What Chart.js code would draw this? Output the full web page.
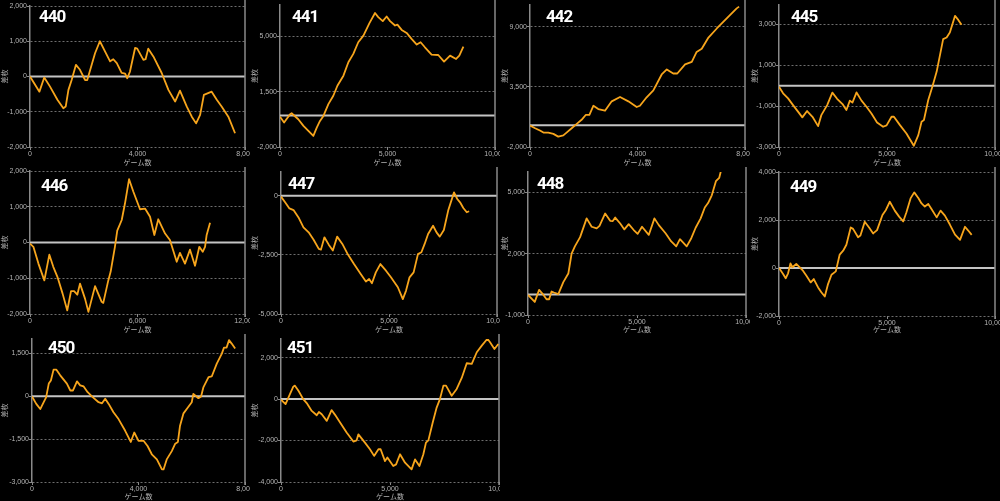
<!DOCTYPE html>
<html><head><meta charset="utf-8">
<script src="https://cdn.jsdelivr.net/npm/chart.js@4/dist/chart.umd.min.js"></script>
<style>
html,body{margin:0;padding:0;background:#000;width:1000px;height:501px;overflow:hidden}
.panel{position:absolute;width:250px;height:167px;overflow:hidden}
.panel canvas{position:absolute;left:0;top:0}
.ttl{position:absolute;color:#fff;font-family:Roboto,'Liberation Sans',sans-serif;font-weight:bold;font-size:17px;line-height:16px;letter-spacing:-1px;white-space:nowrap}
</style></head><body>
<script>
// ---- data (games played vs coin difference) ----
const machines = ['440','441','442','445','446','447','448','449','450','451'];

const games440 = [0,350,530,740,1020,1240,1330,1430,1550,1710,1860,2050,2130,2420,2600,2790,2980,3100,3230,3410,3540,3620,3720,3910,3990,4220,4300,4400,4590,4900,5150,5400,5580,5830,6020,6180,6330,6470,6760,6950,7130,7380,7630];
const diff440  = [0,-430,-30,-280,-660,-900,-850,-380,-100,330,190,-100,-100,660,1000,710,430,490,380,100,80,-50,140,810,790,470,490,790,570,100,-380,-710,-400,-850,-1140,-1330,-1090,-520,-430,-660,-850,-1140,-1610];

const games441 = [0,190,470,540,850,1090,1320,1550,1710,1860,2020,2250,2480,2670,2950,3180,3410,3640,3880,4160,4420,4570,4780,4960,5120,5350,5460,5660,5890,6120,6360,6540,6740,7050,7360,7630,7910,8190,8340,8530];
const diff441  = [-80,-450,80,140,-240,-660,-980,-1300,-770,-350,-30,720,1250,1880,2520,3370,3900,4640,5060,5850,6490,6230,5980,6270,5980,5700,5760,5420,5230,4850,4490,4640,4320,3860,3830,3410,3790,3580,3790,4360];

const games442 = [0,190,370,500,680,870,1050,1240,1360,1550,1740,1920,2080,2210,2360,2540,2790,3040,3350,3660,3970,4090,4340,4590,4900,5090,5330,5480,5770,6020,6200,6390,6640,6950,7190,7440,7690,7780];
const diff442  = [-30,-280,-490,-680,-680,-800,-1050,-930,-680,-280,120,490,950,950,1780,1470,1320,2180,2580,2180,1660,1780,2550,3190,4640,5100,4730,4730,5560,5800,6700,7000,8020,8850,9460,10080,10690,10850];

const games445 = [0,190,420,650,880,1080,1300,1550,1810,1960,2230,2470,2690,2940,3120,3280,3400,3590,3820,4050,4280,4540,4820,4980,5210,5320,5600,5900,6240,6450,6600,6710,6910,7110,7300,7600,7760,7910,8150,8300,8450];
const diff445  = [-50,-370,-620,-950,-1270,-1550,-1240,-1520,-1980,-1440,-950,-340,-640,-900,-1190,-730,-830,-330,-730,-1030,-1360,-1800,-2010,-1940,-1520,-1520,-1930,-2340,-2940,-2420,-1760,-1680,-700,-10,690,2280,2360,2600,3420,3220,2980];

const games446 = [0,190,470,800,1080,1300,1530,1820,2080,2290,2460,2640,2790,3070,3260,3630,4000,4090,4370,4500,4740,4870,5120,5300,5530,5770,6140,6420,6700,6940,7160,7540,7810,8190,8370,8650,8930,9210,9450,9640,9770,9860,10050];
const diff446  = [-30,-120,-590,-1060,-340,-680,-960,-1430,-1900,-1360,-1360,-1460,-1150,-1570,-1940,-1220,-1660,-1690,-1060,-820,-120,330,630,1090,1770,1420,930,950,720,210,650,250,70,-540,-290,-590,-200,-650,-120,-260,-120,210,550];

const games447 = [0,190,390,580,810,1040,1280,1510,1750,1850,2010,2210,2400,2600,2840,3070,3380,3690,3930,4080,4210,4390,4600,4860,5090,5410,5640,5790,5950,6140,6340,6500,6650,6810,7040,7200,7350,7540,7740,8010,8160,8290,8440,8600,8710];
const diff447  = [-40,-280,-540,-610,-920,-1340,-1550,-1860,-2250,-2280,-1760,-2070,-2320,-1730,-2040,-2440,-2890,-3310,-3630,-3520,-3700,-3240,-2890,-3170,-3450,-3870,-4370,-4010,-3450,-3240,-2470,-2390,-2040,-1620,-1270,-1550,-1730,-1450,-630,140,-140,-280,-520,-700,-660];

const games448 = [0,310,510,660,850,970,1080,1190,1390,1620,1850,2000,2150,2390,2690,2920,3150,3280,3540,3770,3890,4000,4230,4420,4620,4850,5030,5230,5540,5800,6000,6310,6570,6800,6970,7280,7490,7690,7920,8110,8260,8430,8620,8770,8850];
const diff448  = [-20,-360,230,50,-230,-230,150,100,20,610,1030,2000,2360,2810,3730,3320,3240,3360,3970,3610,3600,3770,3480,3190,3450,3160,2970,3320,2920,3730,3400,3000,2600,2360,2710,2360,2760,3270,3730,4260,4480,4860,5550,5710,6050];

const games449 = [0,190,310,420,530,620,800,960,1110,1270,1470,1610,1810,1960,2120,2270,2430,2630,2810,2970,3120,3320,3430,3660,3770,3970,4170,4360,4540,4790,4950,5130,5360,5560,5750,5900,6090,6260,6450,6600,6750,6910,7060,7300,7480,7680,7910,8150,8380,8610,8760,8920];
const diff449  = [0,-250,-430,-220,190,30,170,30,-110,-320,-600,-460,-810,-1010,-1190,-670,-280,-140,560,720,970,1690,1630,1280,1350,1930,1690,1440,1580,2210,2420,2760,2390,2140,1940,2320,2900,3150,2920,2690,2560,2670,2460,2110,2390,2180,1810,1390,1170,1720,1560,1380];

const games450 = [0,160,310,440,530,630,710,810,910,1060,1310,1440,1540,1690,1810,1940,2090,2290,2500,2630,2750,2880,3060,3250,3500,3710,3840,4000,4190,4340,4500,4690,4880,4940,5060,5250,5380,5480,5560,5690,5840,6000,6060,6250,6350,6440,6630,6750,6940,7130,7210,7310,7400,7500,7630];
const diff450  = [-10,-270,-450,-210,-40,440,550,930,930,730,440,200,200,520,380,340,140,-40,-210,-250,-90,-270,-560,-800,-1210,-1600,-1270,-1560,-1560,-1740,-2030,-2210,-2560,-2560,-2210,-1920,-1660,-1600,-1030,-600,-410,-210,80,-70,-10,320,670,690,1140,1490,1700,1700,1960,1840,1670];

const games451 = [0,210,410,570,640,800,1020,1180,1410,1640,1740,1870,2100,2320,2480,2710,3010,3320,3470,3550,3850,4080,4270,4470,4570,4770,4880,5150,5280,5460,5690,5990,6150,6350,6530,6650,6760,6960,7140,7290,7450,7570,7830,8060,8290,8520,8750,8980,9210,9470,9590,9790,9970];
const diff451  = [-30,-240,240,610,650,400,0,-190,-570,-780,-620,-730,-1050,-530,-760,-1130,-1610,-2050,-1990,-1700,-2100,-2420,-2740,-2420,-2420,-2990,-2820,-3230,-3150,-2660,-3070,-3390,-2910,-3230,-2660,-2100,-1990,-1130,-410,0,650,650,160,490,1020,1730,1700,2260,2580,2910,2740,2420,2660];

// axis ranges and tick labels
const xMaxes = [8000,10000,8000,10000,12000,10000,10000,10000,8000,10000];
const xTicks = [[0,4000,8000],[0,5000,10000],[0,4000,8000],[0,5000,10000],[0,6000,12000],[0,5000,10000],[0,5000,10000],[0,5000,10000],[0,4000,8000],[0,5000,10000]];
const yMins  = [-2000,-2000,-2000,-3000,-2000,-5000,-1000,-2000,-3000,-4000];
const yMaxes = [2000,7000,11000,3950,2000,1000,6000,4000,2000,2900];
const yTicks = [[-2000,-1000,0,1000,2000],[-2000,1500,5000],[-2000,3500,9000],[-3000,-1000,1000,3000],[-2000,-1000,0,1000,2000],[-5000,-2500,0],[-1000,2000,5000],[-2000,0,2000,4000],[-3000,-1500,0,1500],[-4000,-2000,0,2000]];

const seriesGames = [games440,games441,games442,games445,games446,games447,games448,games449,games450,games451];
const seriesDiff  = [diff440,diff441,diff442,diff445,diff446,diff447,diff448,diff449,diff450,diff451];

// ---- layout (panel-local pixel geometry) ----
const panelCol  = [0,1,2,3,0,1,2,3,0,1];
const panelRow  = [0,0,0,0,1,1,1,1,2,2];
const plotLeft  = [30,30,30,29,30,31,28,29,32,31];
const plotRight = [245,245,245,245,245,247,246,245,245,249];
const plotTop   = [6,5,5,5,4,5,5,5,5,5];
const plotBot   = [147,147,147,147,147,147,148,149,148,148];
const titleX    = [39,42,46,41,41,38,37,40,48,37];
const titleY    = [10,10,10,10,12,10,10,13,7,7];

const PW = 250, PH = 167;
const ORANGE = '#f7a51c';
const TICK_FONT = {family: "'Liberation Sans', Arial, sans-serif", size: 7};
const JP_FONT = {family: "'Noto Sans CJK JP', sans-serif", size: 7};
const fmt = v => Number(v).toLocaleString('en-US');

const frame = {
  id: 'frame',
  beforeDatasetsDraw(chart) {
    const {ctx, chartArea, scales} = chart;
    const y0 = scales.y.getPixelForValue(0);
    ctx.save();
    ctx.strokeStyle = '#c4c4c4';
    ctx.lineWidth = 2;
    ctx.beginPath();
    ctx.moveTo(chartArea.left, y0);
    ctx.lineTo(chartArea.right, y0);
    ctx.stroke();
    ctx.strokeStyle = '#8a8a8a';
    ctx.lineWidth = 1.5;
    ctx.beginPath();
    ctx.moveTo(chartArea.right, 0);
    ctx.lineTo(chartArea.right, chartArea.bottom + 3);
    ctx.stroke();
    ctx.restore();
  }
};

machines.forEach((name, i) => {
  const div = document.createElement('div');
  div.className = 'panel';
  div.style.left = (panelCol[i] * PW) + 'px';
  div.style.top = (panelRow[i] * PH) + 'px';
  const cv = document.createElement('canvas');
  cv.width = PW; cv.height = PH;
  cv.style.width = PW + 'px'; cv.style.height = PH + 'px';
  div.appendChild(cv);
  const t = document.createElement('div');
  t.className = 'ttl';
  t.textContent = name;
  t.style.left = titleX[i] + 'px';
  t.style.top = (titleY[i] - 2) + 'px';
  div.appendChild(t);
  document.body.appendChild(div);

  const pts = seriesGames[i].map((g, k) => ({x: g, y: seriesDiff[i][k]}));

  new Chart(cv, {
    type: 'line',
    data: {datasets: [{data: pts, borderColor: ORANGE, borderWidth: 1.8, pointRadius: 0, fill: false, tension: 0, borderJoinStyle: 'round'}]},
    options: {
      responsive: false, animation: false, devicePixelRatio: 1,
      layout: {padding: {top: plotTop[i], right: PW - plotRight[i], bottom: 0, left: 0}},
      plugins: {legend: {display: false}, tooltip: {enabled: false}, title: {display: false}},
      scales: {
        x: {
          type: 'linear', min: 0, max: xMaxes[i],
          afterBuildTicks: s => { s.ticks = xTicks[i].map(v => ({value: v})); },
          afterFit: s => { s.height = PH - plotBot[i]; s.paddingLeft = 0; s.paddingRight = 0; },
          grid: {display: true, drawOnChartArea: false, drawTicks: true, tickLength: 3, color: '#8a8a8a', tickColor: '#8a8a8a'},
          border: {display: false},
          ticks: {color: '#b4b4b4', font: TICK_FONT, padding: 0, maxRotation: 0, autoSkip: false, callback: v => fmt(v)},
          title: {display: true, text: 'ゲーム数', color: '#b4b4b4', font: JP_FONT, padding: 0}
        },
        y: {
          type: 'linear', min: yMins[i], max: yMaxes[i],
          afterBuildTicks: s => { s.ticks = yTicks[i].map(v => ({value: v})); },
          afterFit: s => { s.width = plotLeft[i]; s.paddingTop = 0; s.paddingBottom = 0; },
          grid: {color: '#6e6e6e', lineWidth: 1, drawTicks: true, tickLength: 3, tickColor: '#8a8a8a'},
          border: {display: true, color: '#8a8a8a', width: 1.5, dash: [2, 2]},
          ticks: {color: '#b4b4b4', font: TICK_FONT, padding: 0, autoSkip: false, callback: v => fmt(v)},
          title: {display: true, text: '差枚', color: '#b4b4b4', font: JP_FONT, padding: 0}
        }
      }
    },
    plugins: [frame]
  });
});
</script>
</body></html>
